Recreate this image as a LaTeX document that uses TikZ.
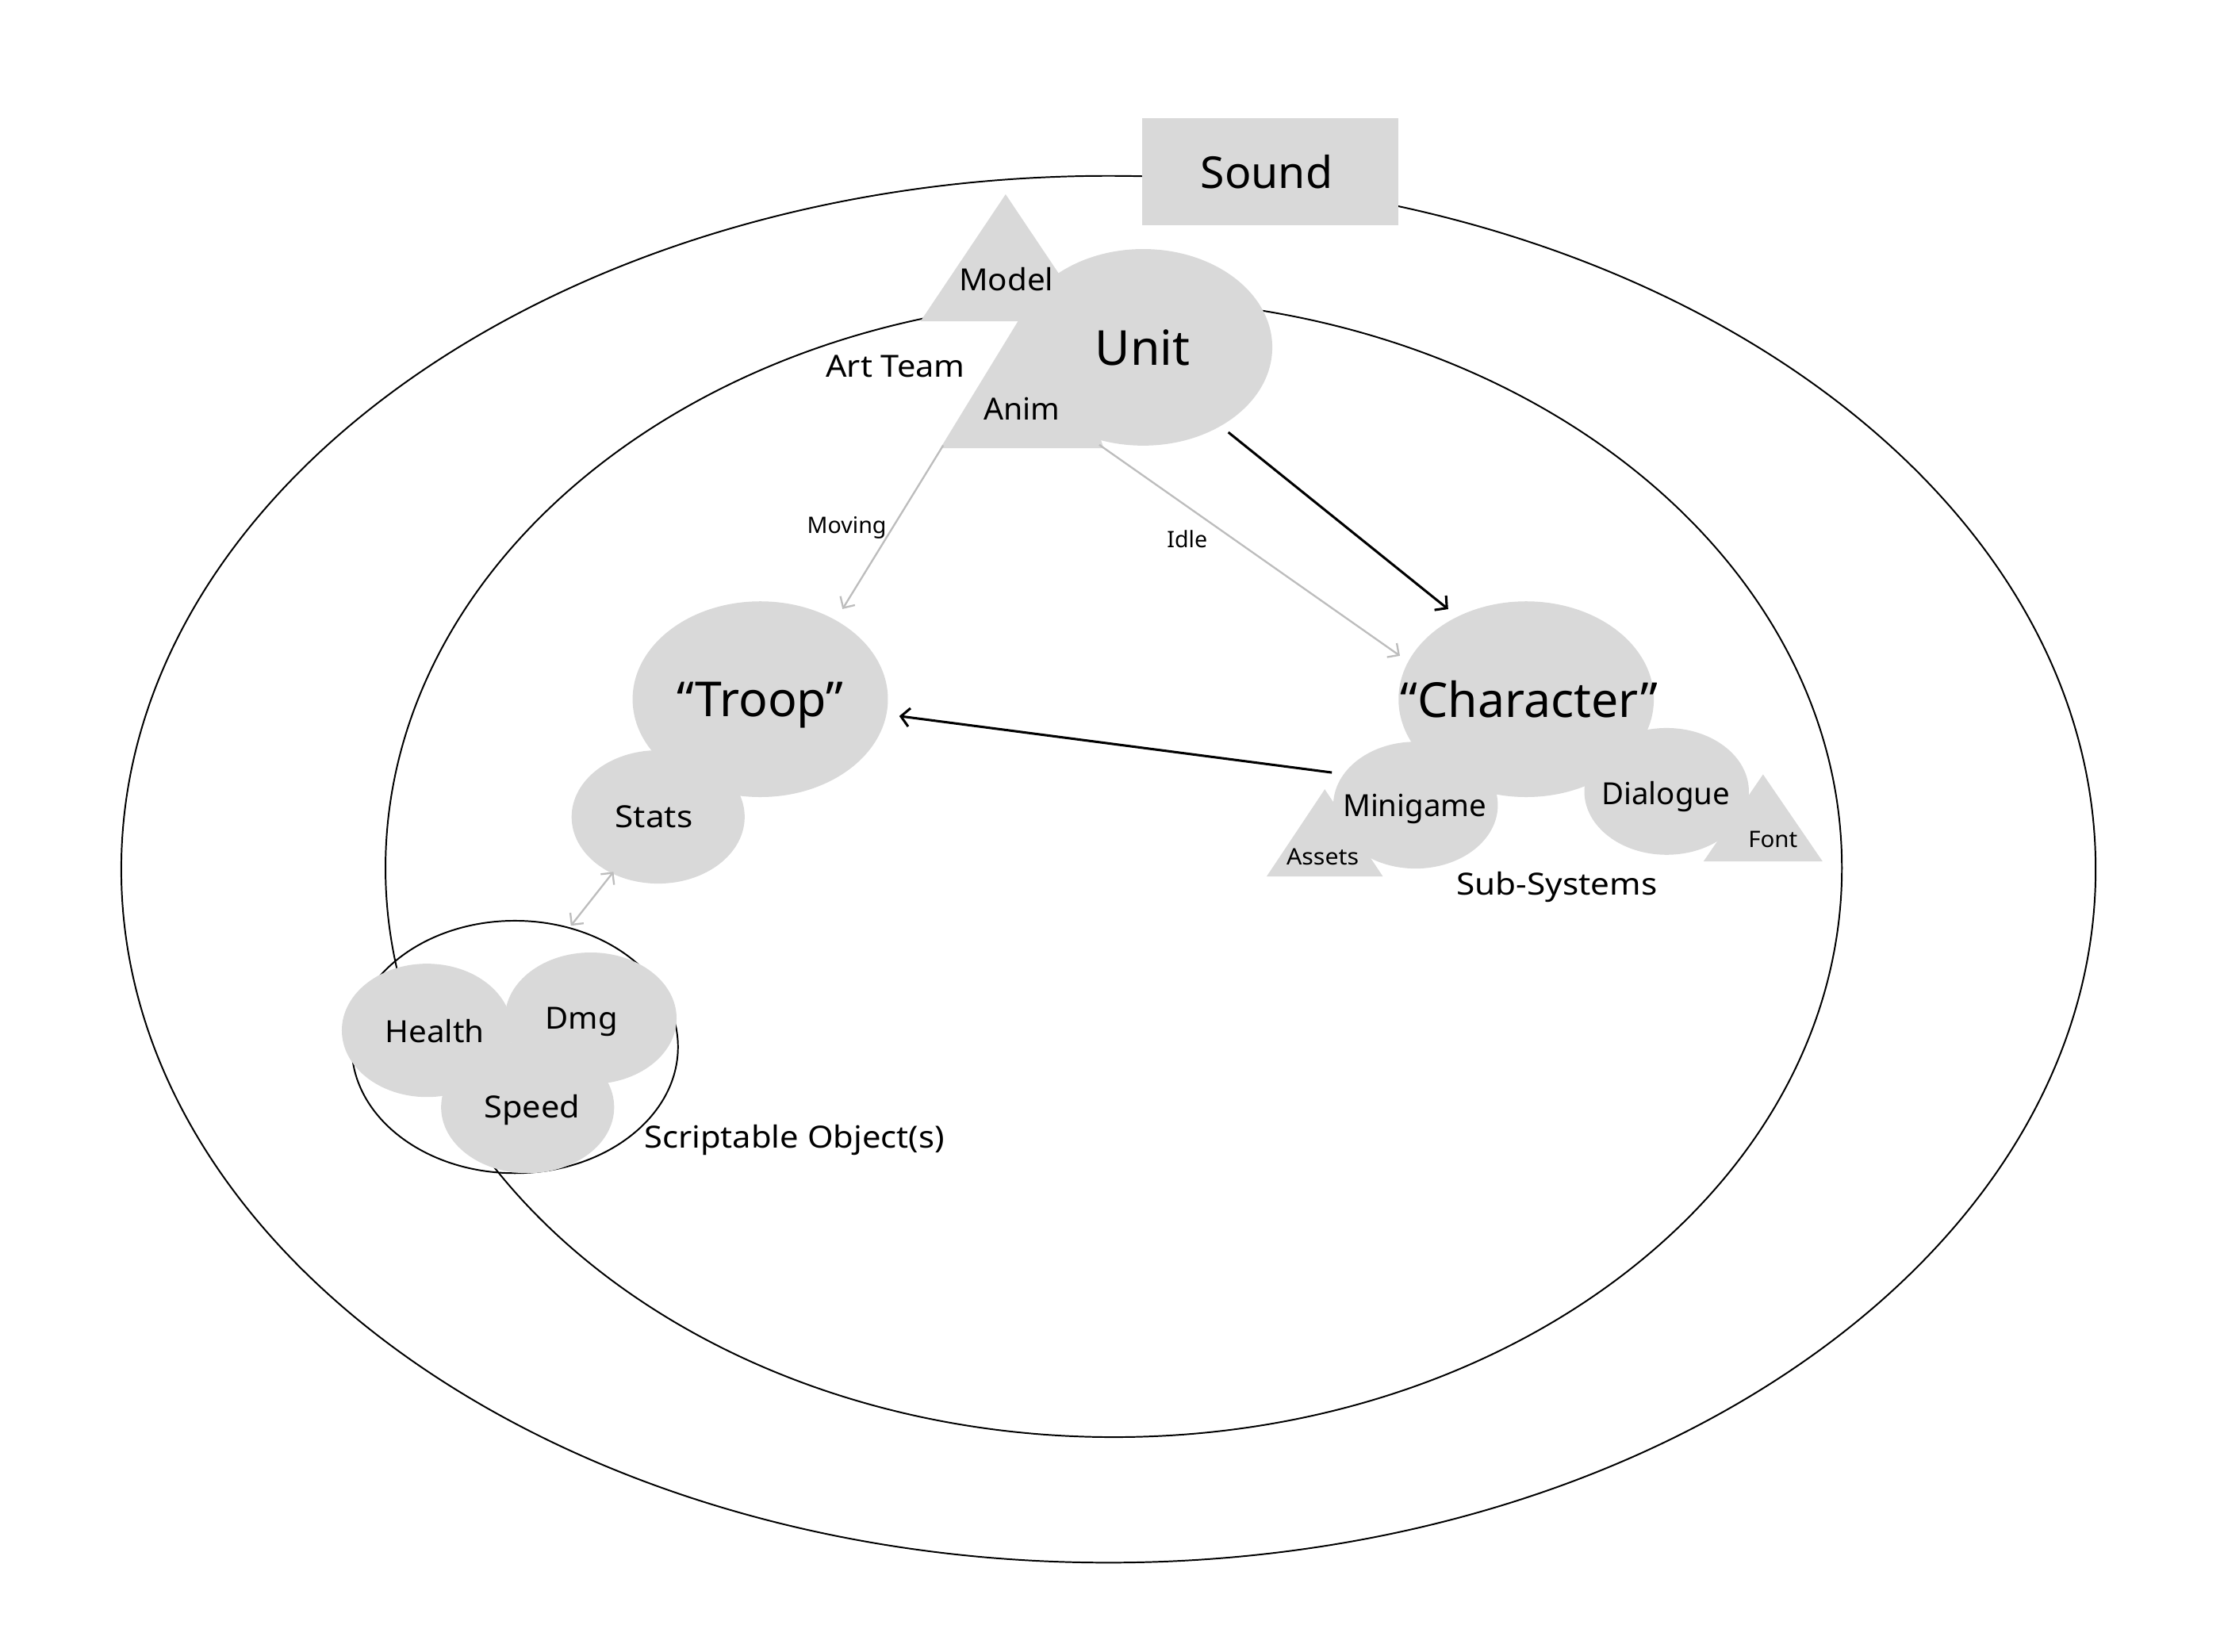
\documentclass[tikz,border=0pt]{standalone}
\usepackage{fontspec}
\usepackage{graphicx}
\setmainfont{Noto Sans}
\usetikzlibrary{shapes.geometric,arrows.meta}
\definecolor{blobgray}{HTML}{D9D9D9}
\definecolor{arrgray}{HTML}{BDBDBD}
\newcommand{\wx}[2]{\scalebox{#1}[1]{#2}}
\begin{document}
\begin{tikzpicture}[x=1pt,y=-1pt,
  ring/.style={ellipse,draw=black,line width=1.1pt,inner sep=0pt},
  blob/.style={ellipse,fill=blobgray,inner sep=0pt},
  tri/.style={fill=blobgray},
  lbl/.style={inner sep=0pt,text depth=0pt,font=\fontsize{21.5}{24}\selectfont},
  biglbl/.style={lbl,font=\fontsize{34}{38}\selectfont},
  smalllbl/.style={lbl,font=\fontsize{16}{18}\selectfont},
  blackarrow/.style={draw=black,line width=1.7pt,-{Straight Barb[length=6pt,width=13pt]}},
  grayarrow/.style={draw=arrgray,line width=1.3pt,-{Straight Barb[length=6pt,width=12pt]}},
  graydouble/.style={draw=arrgray,line width=1.3pt,{Straight Barb[length=6pt,width=12pt]}-{Straight Barb[length=6pt,width=12pt]}},
]
\useasboundingbox (0,0) rectangle (1568,1164.4);

% rings
\node[ring,minimum width=1392pt,minimum height=977.8pt] (outer) at (781.5,612.9) {};
\node[ring,minimum width=1026.8pt,minimum height=802.6pt] (inner) at (785.2,612) {};
\node[ring,minimum width=230pt,minimum height=178pt] (so) at (363,738.2) {};

% sound box
\node[fill=blobgray,minimum width=181pt,minimum height=75.5pt,inner sep=0pt] (sound) at (895.5,121) {};

% unit cluster
\fill[tri] (663,316) -- (778,316) -- (740,190) -- cycle;
\fill[tri] (709,137) -- (649,226.5) -- (769,226.5) -- cycle;
\node[blob,minimum width=182pt,minimum height=138.6pt] (unit) at (806,244.9) {};

% troop cluster
\node[blob,minimum width=180pt,minimum height=138pt] (troop) at (536,493) {};
\node[blob,minimum width=122pt,minimum height=94pt] (stats) at (464,576) {};

% character cluster
\node[blob,minimum width=180pt,minimum height=138pt] (character) at (1076,493) {};
\fill[tri] (934,556.5) -- (893,618) -- (975,618) -- cycle;
\fill[tri] (1243,546) -- (1201,607.4) -- (1285,607.4) -- cycle;
\node[blob,minimum width=116pt,minimum height=89.4pt] (minigame) at (998,567.7) {};
\node[blob,minimum width=116pt,minimum height=89.4pt] (dialogue) at (1175,558) {};

% scriptable objects
\node[blob,minimum width=120pt,minimum height=94pt] (health) at (301,726.5) {};
\node[blob,minimum width=121pt,minimum height=92.8pt] (dmg) at (416.5,718) {};
\node[blob,minimum width=122pt,minimum height=93pt] (speed) at (372,780.7) {};

% connector end points
\coordinate (u1) at (866,304.8);
\coordinate (c1) at (1021,429.5);
\coordinate (m1) at (665,314);
\coordinate (t1) at (594,429.4);
\coordinate (i1) at (775,313.6);
\coordinate (c2) at (987,462.4);
\coordinate (g1) at (939,544.7);
\coordinate (t2) at (634,504.9);
\coordinate (s1) at (432.5,614.7);
\coordinate (s2) at (402.5,652.7);

\draw[blackarrow] (u1) -- (c1);
\draw[blackarrow] (g1) -- (t2);
\draw[grayarrow] (m1) -- (t1);
\draw[grayarrow] (i1) -- (c2);
\draw[graydouble] (s1) -- (s2);

% texts
\node[lbl,font=\fontsize{31}{34}\selectfont] (soundt) at (893,121) {Sound};
\node[lbl] (modelt) at (709.5,197) {\wx{1.05}{Model}};
\node[biglbl] (unitt) at (805.5,245) {Unit};
\node[lbl] (artt) at (631.3,258) {\wx{1.08}{Art Team}};
\node[lbl] (animt) at (720.3,288) {\wx{1.02}{Anim}};
\node[smalllbl] (movingt) at (597,370) {Moving};
\node[smalllbl] (idlet) at (837,380) {Idle};
\node[biglbl] (troopt) at (536,493) {“Troop”};
\node[biglbl] (chart) at (1078,493) {“Character”};
\node[lbl] (statst) at (461,576) {\wx{1.10}{Stats}};
\node[lbl] (minigamet) at (997.5,568) {Minigame};
\node[lbl] (dialoguet) at (1174.5,559) {Dialogue};
\node[smalllbl] (assetst) at (932.5,604) {\wx{1.06}{Assets}};
\node[smalllbl] (fontt) at (1250,592) {\wx{1.03}{Font}};
\node[lbl] (subt) at (1097.6,623) {\wx{1.10}{Sub-Systems}};
\node[lbl] (healtht) at (306.5,727) {\wx{1.05}{Health}};
\node[lbl] (dmgt) at (410,718) {\wx{1.04}{Dmg}};
\node[lbl] (speedt) at (375,780) {\wx{1.08}{Speed}};
\node[lbl,anchor=west] (scriptt) at (454,801) {\wx{1.085}{Scriptable Object(s)}};
\end{tikzpicture}
\end{document}
